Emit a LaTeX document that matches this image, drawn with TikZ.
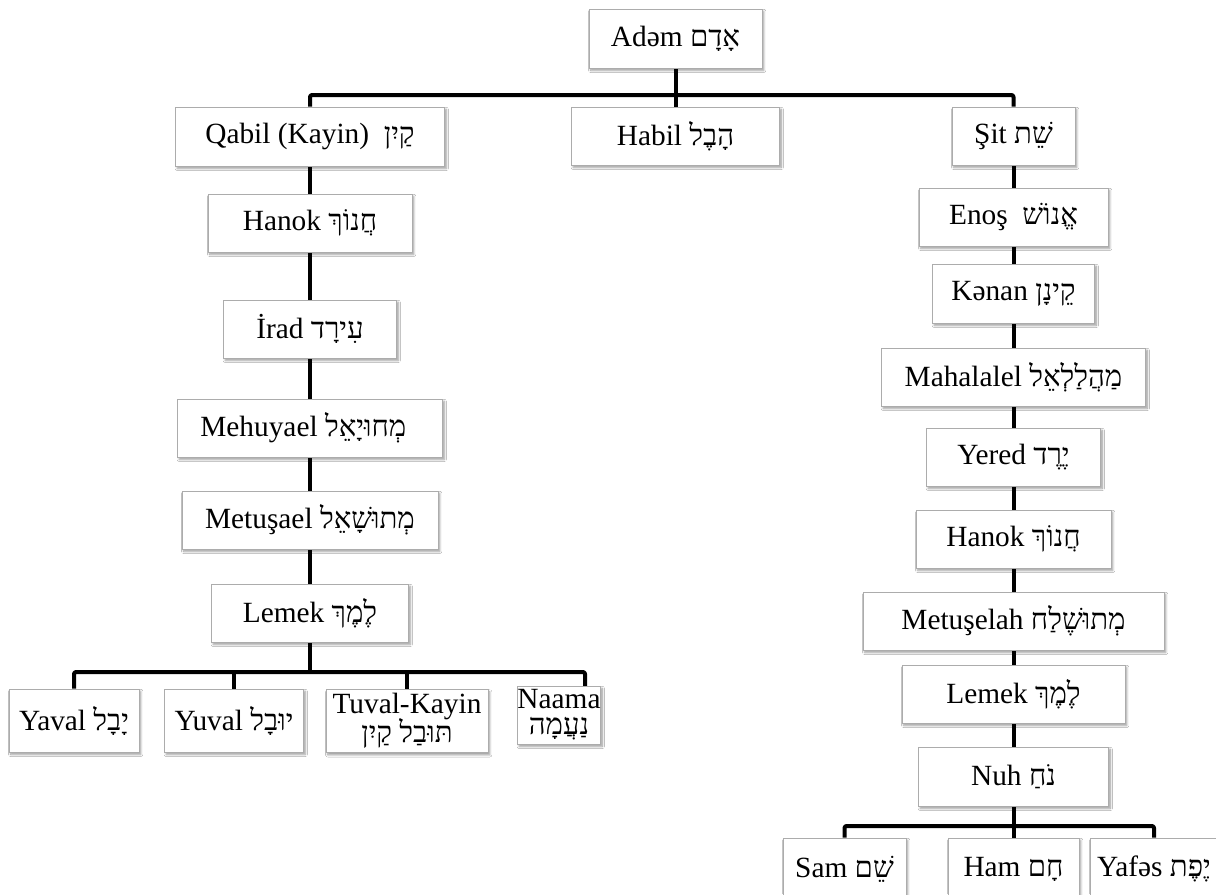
\documentclass[tikz,border=0pt]{standalone}
\usepackage{fontspec}
\setmainfont{Liberation Serif}
\newfontfamily\hebfont[Script=Hebrew]{Liberation Serif}
\TeXXeTstate=1
\newcommand{\hb}[1]{{\hebfont\beginR #1\endR}}
\usetikzlibrary{shadows.blur,backgrounds}
\begin{document}
\begin{tikzpicture}[x=0.75pt,y=-0.75pt,
  box/.style={draw=gray!65, line width=0.6pt, fill=white, inner sep=0pt, align=center,
     font=\fontsize{22}{21}\selectfont,
     blur shadow={shadow xshift=1.3pt, shadow yshift=-1.8pt, shadow blur radius=1.6pt, shadow blur steps=6, shadow opacity=40}},
  wh/.style 2 args={minimum width=#1*0.75pt, minimum height=#2*0.75pt},
  link/.style={line width=3pt, rounded corners=1.5pt, line join=round}]
\useasboundingbox (0,0) rectangle (1216,894);

% top
\node[box, wh={173}{59}] (adam) at (675.5,38.5) {Adəm \hb{אָדָם}};
\node[box, wh={269}{59}] (qabil) at (310,136.5) {Qabil (Kayin)\ \ \hb{קַיִן}};
\node[box, wh={208}{58}] (habil) at (675.5,136) {Habil \hb{הָבֶל}};
\node[box, wh={123}{58}] (sit) at (1013.5,136) {Şit \hb{שֵׁת}};
\coordinate (tb) at (675.5,95);

% left column
\node[box, wh={204}{58}] (hanokA) at (310,223) {Hanok \hb{חֲנוֹךְ}};
\node[box, wh={173}{58}] (irad) at (310,329) {İrad \hb{עִירָד}};
\node[box, wh={265}{58}] (mehuyael) at (310,428) {Mehuyael \hb{מְחוּיָאֵל}\hspace{10pt}};
\node[box, wh={256}{58}] (metusael) at (310,520) {Metuşael \hb{מְתוּשָׁאֵל}};
\node[box, wh={197}{58}] (lemekA) at (310,613) {Lemek \hb{לֶמֶךְ}};
\coordinate (lb) at (310,672);

\node[box, wh={130}{63}] (yaval) at (74,720.5) {Yaval \hb{יָבָל}};
\node[box, wh={139}{63}] (yuval) at (234,720.5) {Yuval \hb{יוּבָל}};
\node[box, wh={162}{63}] (tuval) at (407,721) {Tuval-Kayin\\[-2pt]\hb{תּוּבַל קַיִן}};
\node[box, wh={70}{58}] (naama) at (559,715) {Naama\\[-2pt]\hb{נַעֲמָה}};
\coordinate (nd) at (585,686);

% right column
\node[box, wh={189}{58}] (enos) at (1013.5,217) {Enoş\ \ \hb{אֱנוֹשׁ}};
\node[box, wh={162}{59}] (kenan) at (1013.5,293.5) {Kənan \hb{קֵינָן}};
\node[box, wh={264}{58}] (mahalalel) at (1013.5,377) {Mahalalel \hb{מַהֲלַלְאֵל}};
\node[box, wh={174}{58}] (yered) at (1013.5,457) {Yered \hb{יֶרֶד}};
\node[box, wh={195}{58}] (hanokB) at (1013.5,539) {Hanok \hb{חֲנוֹךְ}};
\node[box, wh={301}{58}] (metuselah) at (1013.5,621) {Metuşelah \hb{מְתוּשֶׁלַח}};
\node[box, wh={223}{58}] (lemekB) at (1013.5,694) {Lemek \hb{לֶמֶךְ}};
\node[box, wh={190}{59}] (nuh) at (1013.5,776.5) {Nuh \hb{נֹחַ}};
\coordinate (rb) at (1013.5,826);

\node[box, wh={123}{62}] (sam) at (844.5,869) {Sam \hb{שֵׁם}};
\node[box, wh={131}{62}] (ham) at (1013.5,869) {Ham \hb{חָם}};
\node[box, wh={128}{62}] (yafes) at (1154,869) {Yafəs \hb{יֶפֶת}};

\begin{pgfonlayer}{background}
\fill[white] (0,0) rectangle (1216,894);
\draw[link] (adam.south) -- (habil.north);
\draw[link] (qabil.north) |- (tb) -| (sit.north);
\draw[link] (qabil.south) -- (hanokA.north);
\draw[link] (hanokA.south) -- (irad.north);
\draw[link] (irad.south) -- (mehuyael.north);
\draw[link] (mehuyael.south) -- (metusael.north);
\draw[link] (metusael.south) -- (lemekA.north);
\draw[link] (lemekA.south) -- (lb);
\draw[link] (yaval.north) |- (lb) -| (nd);
\draw[link] (yuval.north) -- (yuval.north |- lb);
\draw[link] (tuval.north) -- (tuval.north |- lb);
\draw[link] (sit.south) -- (enos.north);
\draw[link] (enos.south) -- (kenan.north);
\draw[link] (kenan.south) -- (mahalalel.north);
\draw[link] (mahalalel.south) -- (yered.north);
\draw[link] (yered.south) -- (hanokB.north);
\draw[link] (hanokB.south) -- (metuselah.north);
\draw[link] (metuselah.south) -- (lemekB.north);
\draw[link] (lemekB.south) -- (nuh.north);
\draw[link] (nuh.south) -- (ham.north);
\draw[link] (sam.north) |- (rb) -| (yafes.north);
\end{pgfonlayer}
\end{tikzpicture}
\end{document}
